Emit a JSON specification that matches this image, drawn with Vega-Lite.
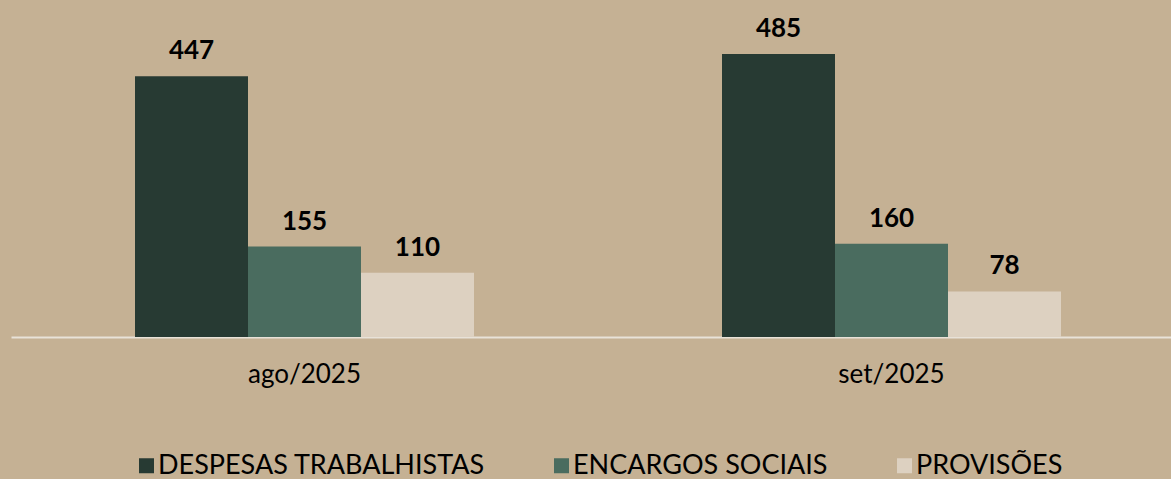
{
  "$schema": "https://vega.github.io/schema/vega-lite/v6.json",
  "width": 1174,
  "height": 337,
  "autosize": "none",
  "padding": {"left": 11, "top": 0, "right": 0, "bottom": 142},
  "background": "#C5B194",
  "config": {"view": {"stroke": null}, "font": "Lato"},
  "data": {
    "values": [
      {"mes": "ago/2025", "cat": "DESPESAS TRABALHISTAS", "v": 447},
      {"mes": "ago/2025", "cat": "ENCARGOS SOCIAIS", "v": 155},
      {"mes": "ago/2025", "cat": "PROVISÕES", "v": 110},
      {"mes": "set/2025", "cat": "DESPESAS TRABALHISTAS", "v": 485},
      {"mes": "set/2025", "cat": "ENCARGOS SOCIAIS", "v": 160},
      {"mes": "set/2025", "cat": "PROVISÕES", "v": 78}
    ]
  },
  "encoding": {
    "x": {
      "field": "mes", "type": "nominal", "sort": ["ago/2025", "set/2025"],
      "scale": {"paddingInner": 0.4225, "paddingOuter": 0.21125},
      "axis": {
        "title": null, "domainColor": "#E8E2D8", "domainWidth": 2,
        "ticks": false, "tickSize": 0, "labelFontSize": 26, "labelColor": "#000000",
        "labelPadding": 45, "labelBaseline": "alphabetic", "labelAngle": 0, "grid": false,
        "labelFont": "Lato"
      }
    },
    "xOffset": {
      "field": "cat", "type": "nominal",
      "sort": ["DESPESAS TRABALHISTAS", "ENCARGOS SOCIAIS", "PROVISÕES"],
      "scale": {"paddingInner": 0, "paddingOuter": 0}
    },
    "y": {"field": "v", "type": "quantitative", "scale": {"domain": [0, 577.5]}, "axis": null}
  },
  "layer": [
    {
      "mark": {"type": "bar"},
      "encoding": {
        "color": {
          "field": "cat", "type": "nominal",
          "scale": {
            "domain": ["DESPESAS TRABALHISTAS", "ENCARGOS SOCIAIS", "PROVISÕES"],
            "range": ["#273A33", "#4A6C5F", "#DDD1C1"]
          },
          "legend": {
            "orient": "none", "legendX": 122, "legendY": 452, "direction": "horizontal",
            "title": null, "symbolType": "square", "symbolSize": 225, "symbolStrokeWidth": 0,
            "labelFontSize": 27, "labelFont": "Lato", "labelColor": "#000000",
            "columnPadding": 63, "labelOffset": -2, "labelLimit": 0, "padding": 0
          }
        }
      }
    },
    {
      "mark": {"type": "text", "dy": -17, "baseline": "alphabetic", "fontSize": 26, "fontWeight": "bold", "color": "#000000", "font": "Lato"},
      "encoding": {"text": {"field": "v", "type": "quantitative"}}
    }
  ]
}
